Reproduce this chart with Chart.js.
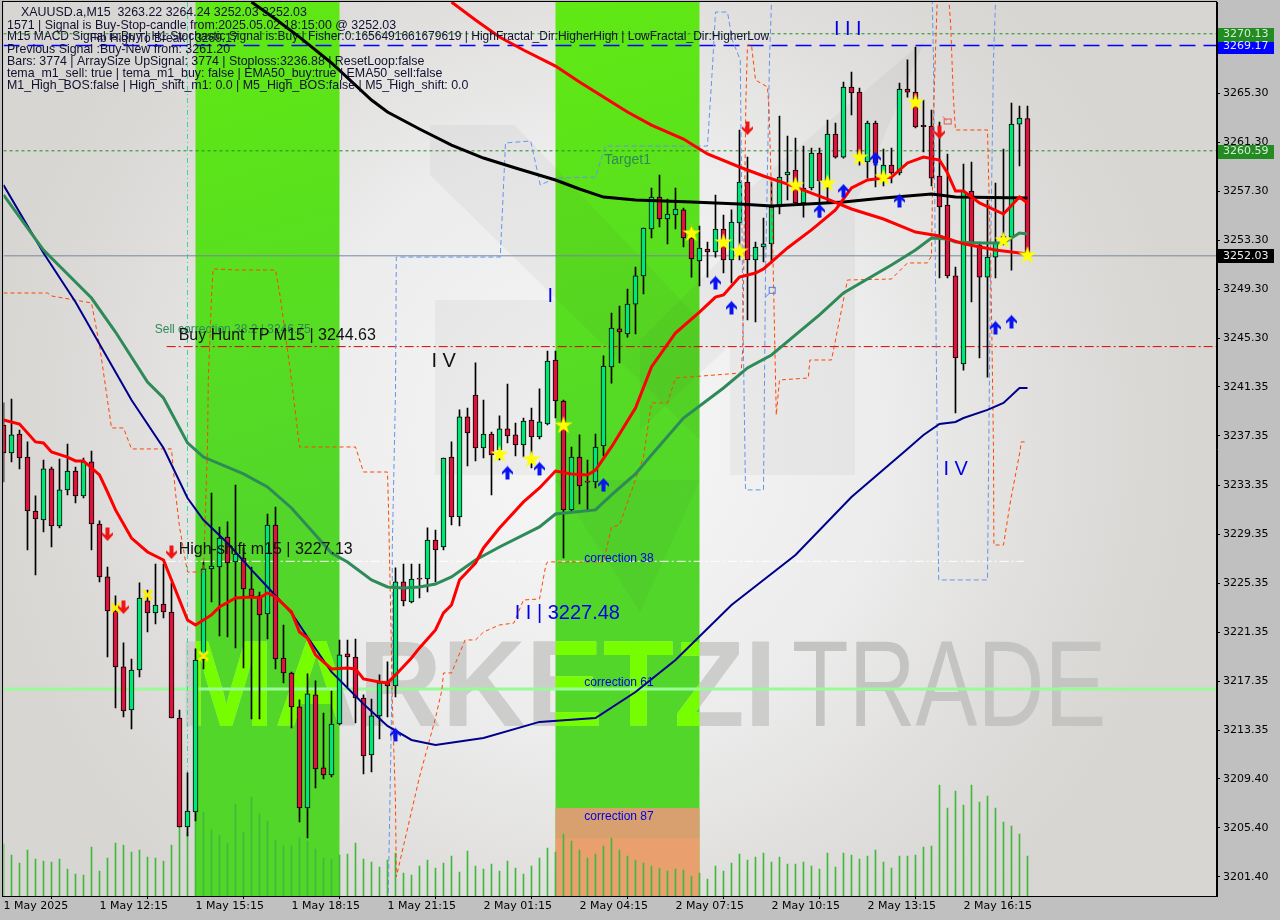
<!DOCTYPE html>
<html>
<head>
<meta charset="utf-8">
<title>XAUUSD.a,M15</title>
<script src="https://cdn.jsdelivr.net/npm/chart.js@4"></script>
<style>
html, body { margin: 0; padding: 0; background: #c0c0c0; }
canvas { display: block; }
</style>
</head>
<body>
<canvas id="chart" width="1280" height="920"></canvas>
<script>
const opens = [3238.24,3235.96,3237.51,3235.63,3231.23,3230.50,3234.66,3230.01,3232.95,3234.49,3232.46,3235.23,3230.17,3225.86,3223.08,3218.52,3215.01,3218.27,3223.90,3222.92,3223.65,3223.00,3214.36,3205.48,3206.70,3219.09,3226.51,3226.67,3229.11,3227.08,3227.40,3224.88,3224.31,3222.84,3230.09,3219.25,3218.03,3215.26,3207.03,3216.24,3210.29,3209.72,3213.87,3219.58,3219.33,3215.99,3211.35,3214.53,3217.30,3216.97,3225.45,3223.82,3225.72,3225.69,3228.87,3228.30,3235.63,3230.74,3238.90,3240.69,3236.37,3237.51,3236.21,3237.92,3237.43,3236.61,3238.65,3237.26,3238.32,3243.54,3240.20,3231.32,3235.63,3233.63,3233.60,3236.53,3242.97,3246.07,3245.66,3248.10,3250.39,3254.22,3256.82,3255.03,3255.36,3255.77,3253.48,3251.61,3252.59,3252.34,3254.22,3251.69,3254.71,3258.05,3251.69,3252.75,3253.00,3256.01,3258.62,3259.02,3256.34,3257.56,3260.41,3257.56,3261.96,3260.08,3265.79,3265.38,3259.68,3262.86,3258.37,3259.43,3258.78,3265.63,3265.38,3262.61,3262.61,3258.54,3256.17,3250.39,3243.21,3257.31,3252.91,3250.30,3251.93,3253.16,3253.56,3262.77,3263.22];
const highs = [3240.04,3240.36,3237.83,3236.86,3232.46,3235.39,3234.82,3235.47,3236.69,3234.82,3235.55,3236.12,3230.42,3226.67,3224.31,3220.48,3219.17,3225.37,3224.79,3226.91,3226.91,3225.37,3215.01,3209.88,3219.99,3227.08,3232.70,3229.93,3230.34,3233.35,3228.22,3226.67,3224.63,3230.99,3231.56,3221.94,3218.11,3215.83,3217.95,3217.38,3214.77,3216.56,3220.72,3220.72,3220.80,3216.24,3215.91,3217.87,3218.93,3226.59,3226.91,3226.91,3226.91,3229.85,3229.68,3235.55,3236.86,3239.47,3239.63,3243.30,3240.28,3237.67,3238.98,3241.58,3238.40,3238.81,3239.63,3241.18,3244.27,3244.27,3240.28,3236.45,3237.43,3235.39,3237.51,3243.87,3247.37,3247.94,3249.33,3251.12,3254.30,3257.56,3258.62,3256.66,3257.56,3255.93,3254.46,3254.46,3253.16,3256.99,3255.36,3255.77,3262.29,3260.08,3253.16,3255.11,3258.05,3263.43,3261.80,3261.63,3260.98,3260.82,3260.82,3263.10,3262.85,3266.20,3267.01,3265.71,3263.02,3263.02,3260.74,3260.82,3266.12,3268.00,3269.05,3264.73,3263.92,3262.94,3260.33,3251.12,3259.51,3259.68,3253.16,3256.58,3257.97,3260.74,3264.49,3264.24,3264.24];
const lows = [3233.60,3235.23,3234.66,3228.05,3226.02,3229.52,3228.30,3229.85,3232.54,3231.88,3232.30,3228.05,3225.45,3219.33,3215.18,3214.44,3213.47,3217.71,3221.37,3222.02,3222.51,3214.36,3205.48,3204.75,3205.97,3218.36,3223.82,3221.05,3220.96,3220.07,3218.44,3214.28,3214.28,3220.80,3218.36,3217.22,3213.55,3205.89,3204.58,3208.66,3209.39,3209.55,3213.79,3216.89,3213.95,3209.80,3209.96,3212.65,3214.44,3216.07,3223.49,3223.74,3224.14,3224.63,3225.45,3228.05,3230.09,3230.01,3234.90,3235.31,3235.55,3232.54,3235.39,3236.78,3235.72,3235.63,3234.74,3237.10,3238.24,3238.81,3227.40,3231.15,3231.80,3231.32,3233.11,3235.72,3241.66,3243.30,3245.41,3245.66,3248.92,3253.48,3254.38,3253.00,3254.22,3252.75,3250.30,3249.57,3250.30,3251.93,3250.63,3249.82,3251.69,3246.80,3246.64,3251.53,3251.45,3255.44,3256.58,3256.17,3255.19,3257.40,3255.19,3256.42,3260.00,3260.00,3263.51,3259.43,3258.37,3257.64,3257.72,3257.97,3258.62,3264.97,3262.45,3260.49,3257.72,3250.22,3250.22,3239.22,3242.72,3248.27,3243.70,3242.15,3250.22,3252.91,3250.87,3259.35,3252.03];
const closes = [3235.96,3237.43,3235.55,3231.23,3230.58,3234.66,3230.01,3232.95,3234.49,3232.46,3235.23,3230.17,3225.86,3223.08,3218.52,3214.93,3218.27,3224.14,3222.92,3223.57,3223.00,3214.36,3205.48,3206.78,3219.09,3226.51,3226.75,3229.03,3226.99,3227.73,3224.88,3224.31,3222.76,3230.09,3219.17,3218.03,3215.26,3207.03,3216.32,3210.21,3209.72,3213.87,3219.50,3219.33,3215.99,3211.27,3214.53,3217.22,3216.97,3225.45,3223.90,3225.69,3225.66,3228.87,3228.05,3235.55,3230.74,3238.90,3237.59,3236.37,3237.51,3235.80,3237.92,3237.35,3236.61,3238.57,3237.26,3238.49,3243.46,3240.20,3231.32,3235.63,3233.27,3233.57,3236.45,3243.05,3246.15,3245.82,3248.10,3250.39,3254.30,3256.82,3255.03,3255.44,3255.85,3253.48,3251.77,3252.67,3252.34,3254.22,3251.69,3254.79,3258.05,3251.69,3252.75,3253.00,3256.01,3258.45,3258.86,3256.34,3257.56,3260.41,3258.13,3261.96,3260.08,3265.79,3265.30,3259.84,3262.86,3259.60,3259.43,3258.78,3265.63,3265.38,3262.53,3262.55,3258.37,3256.01,3250.39,3243.70,3257.31,3253.16,3250.30,3251.93,3253.16,3253.65,3262.77,3263.26,3252.03];
const volumes = [520,410,330,460,370,350,340,370,270,220,210,490,250,380,530,510,440,460,390,380,350,510,690,640,840,840,660,610,530,920,640,990,820,750,560,500,500,580,550,470,380,370,410,420,530,370,340,290,360,430,230,210,300,360,280,330,400,240,450,300,270,320,250,350,280,220,300,380,480,440,620,550,460,380,420,500,580,460,400,360,330,300,280,250,270,260,200,230,170,300,250,330,420,360,390,430,340,390,320,320,340,300,270,430,290,430,410,370,400,460,340,280,400,400,410,490,500,1110,880,1050,910,1110,940,1000,880,740,700,620,400];

const redBars = [0,2,4,5,6,8,9,10,12,13,14,16,18,20,21,23,24,26,27,29,31,32,33,34,36,37,38,39,41,43,44,45,47,48,49,51,52,54,55,56,57,59,60,62,65,67,69,71,73,74,76,79,81,84,87,89,90,92,94,95,98,101,104,106,108,111,113,115,117,118,119,120,122,125,127,128];
const redLine = [3238.65,3238.32,3236.86,3236.78,3236.04,3235.63,3235.31,3235.31,3234.17,3232.78,3231.32,3229.03,3227.89,3227.24,3225.61,3222.35,3221.94,3222.76,3223.41,3224.14,3224.22,3224.14,3224.55,3224.22,3223.00,3221.37,3220.88,3219.50,3218.36,3218.44,3218.36,3217.54,3217.30,3217.22,3217.87,3219.25,3220.07,3221.54,3222.92,3223.57,3225.61,3226.99,3228.22,3229.85,3231.97,3233.11,3234.49,3234.25,3234.17,3234.57,3236.45,3239.63,3242.97,3245.74,3247.45,3248.67,3248.84,3250.30,3250.63,3250.96,3252.67,3254.14,3255.77,3257.56,3258.21,3258.45,3259.60,3260.08,3259.84,3258.78,3257.31,3257.31,3256.34,3255.44,3256.82,3256.34];
const slowRedBars = [56,59,62,65,69,72,75,78,81,85,88,92,95,98,103,106,110,114,117,120,124,128];
const slowRedLine = [3272.72,3271.25,3269.86,3268.81,3267.50,3266.20,3264.97,3263.75,3262.69,3261.55,3260.33,3259.27,3258.54,3257.88,3256.66,3255.85,3255.03,3253.97,3253.65,3253.01,3252.50,3252.18];
const blackBars = [31,34,37,41,46,48,52,56,60,64,69,72,75,79,86,92,96,105,110,116,119,128];
const blackLine = [3272.72,3271.33,3269.86,3267.75,3264.73,3263.75,3262.37,3261.06,3260.00,3259.19,3258.21,3257.48,3256.82,3256.58,3256.42,3256.25,3256.09,3256.42,3256.74,3257.07,3256.82,3256.74];
const greenBars = [0,5,11,14,18,20,23,25,30,33,36,39,41,43,46,48,50,52,54,56,59,62,67,69,74,76,79,81,85,90,93,96,99,102,105,111,114,116,118,119,122,125,127,128];
const greenLine = [3256.99,3252.50,3248.59,3245.82,3241.75,3240.44,3236.78,3235.63,3234.25,3233.19,3231.48,3229.28,3227.81,3227.08,3225.61,3225.04,3224.96,3225.04,3225.28,3225.86,3227.24,3228.30,3229.93,3230.99,3231.32,3232.54,3234.25,3235.80,3238.81,3241.26,3242.89,3243.95,3245.58,3247.21,3249.00,3251.28,3252.50,3253.48,3253.40,3253.16,3253.08,3253.08,3253.89,3253.81];
const navyBars = [0,5,9,14,16,20,23,25,28,31,33,36,38,41,45,48,51,54,60,67,74,79,84,91,99,106,113,115,117,119,120,123,125,127,128];
const navyLine = [3257.80,3252.26,3248.27,3242.56,3240.28,3236.37,3232.29,3230.50,3228.62,3226.43,3225.04,3222.92,3220.96,3218.11,3215.50,3213.71,3212.57,3212.16,3212.73,3214.04,3214.36,3216.48,3219.09,3223.57,3227.65,3232.37,3236.29,3237.43,3238.32,3238.49,3238.81,3239.47,3240.04,3241.26,3241.26];
const orangeBars = [0,5.5,6,11,12,13.5,15,16,21,21.5,22,23,25,25.5,25.6,26,26.2,29.6,34,34.6,36,36.6,37,44,45,48,48.1,48.4,48.6,49,49.1,52,54,54.8,55,56,57.7,59,60,62,63.8,65,67,67.8,68,75,76,77,80,81,83,84,92.2,92.4,92.8,93,93.5,94,95.5,95.7,96,96.3,96.6,97,100.6,100.8,103.5,104.5,105.5,111,113,115.5,116,116.3,116.8,118,118.4,118.75,119,123,123.4,123.6,123.75,123.8,125,125.9,127.1,127.2,127.75];
const orangeLine = [3249.00,3249.00,3248.76,3248.19,3244.76,3238.00,3238.00,3236.29,3236.29,3232.70,3229.93,3226.26,3226.26,3236.45,3241.91,3248.67,3250.96,3250.87,3250.87,3248.67,3241.91,3238.65,3236.45,3236.45,3234.41,3234.41,3232.13,3222.92,3215.83,3207.44,3201.40,3209.55,3214.36,3216.64,3218.03,3218.03,3220.72,3220.72,3221.37,3221.94,3222.10,3223.98,3224.06,3226.83,3227.08,3227.08,3229.93,3230.09,3235.63,3240.04,3240.04,3242.07,3242.48,3244.36,3264.73,3269.21,3269.21,3266.36,3265.79,3263.92,3257.15,3248.43,3239.06,3241.91,3242.07,3243.54,3243.54,3246.80,3250.06,3250.14,3251.45,3251.45,3252.02,3264.73,3274.51,3274.51,3270.84,3264.73,3262.29,3262.29,3251.69,3243.30,3236.21,3228.46,3228.46,3232.13,3236.21,3236.86,3236.86];
const blueBars = [48.1,48.4,48.6,48.6,49,49.1,62.1,62.75,65.9,67.1,69,74,75.25,88,88.6,89,90.5,91.1,92.1,92.4,92.75,95,95.25,95.75,96,97,114,116.1,116.25,116.5,116.9,123,123.4,123.75,124];
const blueLine = [3200.10,3210.94,3218.52,3228.30,3240.85,3251.93,3251.93,3261.23,3261.39,3257.80,3258.37,3258.45,3260.98,3260.98,3267.18,3271.90,3271.90,3269.62,3267.99,3248.43,3232.95,3232.95,3250.30,3267.99,3272.72,3274.51,3274.51,3272.72,3267.99,3250.30,3225.61,3225.61,3252.50,3267.99,3272.72];

const starBars = [62,66,70,86,90,92,99,103,107,110,114,125,128];
const starPrices = [3235.88,3235.47,3238.24,3253.89,3253.16,3252.42,3257.80,3257.97,3260.08,3258.45,3264.57,3253.32,3252.10];
const upBars = [49,63,67,75,89,91,102,105,109,112,124,126];
const upPrices = [3212.98,3234.33,3234.66,3233.35,3249.82,3247.78,3255.68,3257.31,3259.92,3256.50,3246.15,3246.64];
const downBars = [13,15,21,93,117];
const downPrices = [3229.36,3223.41,3227.89,3262.45,3262.12];
const crossBars = [14,18,25];
const crossPrices = [3223.33,3224.39,3219.42];

const yTicks = [3265.30,3261.30,3257.30,3253.30,3249.30,3245.30,3241.35,3237.35,3233.35,3229.35,3225.35,3221.35,3217.35,3213.35,3209.40,3205.40,3201.40];
const xTickBars = [0,12,24,36,48,60,72,84,96,108,120];
const xTickLabels = ['1 May 2025','1 May 12:15','1 May 15:15','1 May 18:15','1 May 21:15','2 May 01:15','2 May 04:15','2 May 07:15','2 May 10:15','2 May 13:15','2 May 16:15'];

const zoneStart = [24,69];
const zoneEnd = [42,87];
const lastBar = 151.69;
const priceMin = 3199.85;
const priceMax = 3272.72;

const headerLines = [
  'M15 MACD Signal is:Buy | H1 Stochastic Signal is:Buy | Fisher:0.1656491661679619 | HighFractal_Dir:HigherHigh | LowFractal_Dir:HigherLow',
  '1571 | Signal is Buy-Stop-candle from:2025.05.02 18:15:00 @ 3252.03',
  'Previous Signal :Buy-New from: 3261.20',
  'Bars: 3774 | ArraySize UpSignal: 3774 | Stoploss:3236.88 | ResetLoop:false',
  'tema_m1_sell: true | tema_m1_buy: false | EMA50_buy:true | EMA50_sell:false',
  'M1_High_BOS:false | High_shift_m1: 0.0 | M5_High_BOS:false | M5_High_shift: 0.0'
];
const headerY = [37,26,50,62,74,86];

function pairs(xs, ys) {
  return xs.map((x, i) => ({ x: x, y: ys[i] }));
}

// little images for the signal marks
function markCanvas(w, h, draw) {
  const c = document.createElement('canvas');
  c.width = w;
  c.height = h;
  draw(c.getContext('2d'), w, h);
  return c;
}
const starMark = markCanvas(20, 20, (g) => {
  g.fillStyle = '#ffff00';
  g.beginPath();
  for (let i = 0; i < 10; i++) {
    const r = i % 2 ? 3.6 : 9.5;
    const a = -Math.PI / 2 + i * Math.PI / 5;
    g.lineTo(10 + r * Math.cos(a), 10.5 + r * Math.sin(a));
  }
  g.closePath();
  g.fill();
});
function arrowShape(g, color) {
  g.fillStyle = color;
  g.beginPath();
  g.moveTo(6.5, 0.5);
  g.lineTo(12, 6.5);
  g.lineTo(12, 9);
  g.lineTo(8.5, 6.5);
  g.lineTo(8.5, 14);
  g.lineTo(4.5, 14);
  g.lineTo(4.5, 6.5);
  g.lineTo(1, 9);
  g.lineTo(1, 6.5);
  g.closePath();
  g.fill();
}
const upMark = markCanvas(13, 15, (g) => arrowShape(g, '#0a14f0'));
const downMark = markCanvas(13, 15, (g) => {
  g.translate(0, 15);
  g.scale(1, -1);
  arrowShape(g, '#f01414');
});
const crossMark = markCanvas(13, 13, (g) => {
  g.strokeStyle = '#ffee00';
  g.lineWidth = 3;
  g.beginPath();
  g.moveTo(2, 2);
  g.lineTo(11, 11);
  g.moveTo(11, 2);
  g.lineTo(2, 11);
  g.stroke();
});
const hollowUp = markCanvas(12, 12, (g) => {
  g.strokeStyle = '#4a7de8';
  g.lineWidth = 1;
  g.strokeRect(4.5, 1.5, 6, 6);
  g.beginPath();
  g.moveTo(1, 11);
  g.lineTo(5, 7);
  g.stroke();
});
const hollowDown = markCanvas(14, 14, (g) => {
  g.strokeStyle = '#e05a4a';
  g.lineWidth = 1;
  g.strokeRect(4.5, 3.5, 7, 5);
  g.beginPath();
  g.moveTo(3, 1);
  g.lineTo(7, 5);
  g.stroke();
});

function flatLine(price, from, to, color, width, dash, order) {
  return {
    type: 'line',
    data: [{ x: from, y: price }, { x: to, y: price }],
    borderColor: color,
    borderWidth: width,
    borderDash: dash,
    pointRadius: 0,
    order: order
  };
}
function traceLine(xs, ys, color, width, dash, order) {
  return {
    type: 'line',
    data: pairs(xs, ys),
    borderColor: color,
    borderWidth: width,
    borderDash: dash || [],
    pointRadius: 0,
    tension: 0,
    order: order
  };
}
function marks(xs, ys, image) {
  return {
    type: 'scatter',
    data: pairs(xs, ys),
    pointStyle: image,
    pointRadius: 6,
    order: 1
  };
}
// no room kept for labels that hang over the ends of an axis
function noLabelPadding(axis) {
  axis.paddingLeft = 0;
  axis.paddingRight = 0;
  axis.paddingTop = 0;
  axis.paddingBottom = 0;
}

// background, watermark and the coloured zones go under the candles
const backdrop = {
  id: 'backdrop',
  beforeDatasetsDraw(chart) {
    const g = chart.ctx;
    const a = chart.chartArea;
    const x = chart.scales.x;
    const y = chart.scales.y;
    g.save();
    const bg = g.createRadialGradient(590, 440, 0, 590, 440, 600);
    bg.addColorStop(0, '#f7f7f7');
    bg.addColorStop(0.5, '#ececec');
    bg.addColorStop(0.8, '#dedddb');
    bg.addColorStop(1, '#d8d6d3');
    g.fillStyle = bg;
    g.fillRect(a.left, a.top, a.right - a.left, a.bottom - a.top);

    // zones
    zoneStart.forEach((b, i) => {
      const l = x.getPixelForValue(b);
      const r = x.getPixelForValue(zoneEnd[i]);
      const zone = g.createLinearGradient(l, a.top, r, 500);
      zone.addColorStop(0, '#60e913');
      zone.addColorStop(1, '#52d62a');
      g.fillStyle = zone;
      g.fillRect(l, a.top, r - l, a.bottom - a.top);
    });
    const zl = x.getPixelForValue(zoneStart[1]);
    const zr = x.getPixelForValue(zoneEnd[1]);
    g.fillStyle = '#d8a06e';
    g.fillRect(zl, y.getPixelForValue(3207.03), zr - zl, y.getPixelForValue(3204.58) - y.getPixelForValue(3207.03));
    g.fillStyle = '#e9a06e';
    g.fillRect(zl, y.getPixelForValue(3204.58), zr - zl, a.bottom - y.getPixelForValue(3204.58));

    // logo
    g.fillStyle = 'rgba(40,50,40,0.045)';
    [
      [[435, 300], [555, 300], [555, 475], [435, 475]],
      [[430, 125], [515, 125], [700, 320], [700, 440], [430, 175]],
      [[730, 205], [855, 205], [855, 475], [730, 475]],
      [[730, 205], [925, 40], [855, 205]],
      [[555, 480], [700, 480], [640, 612]],
      [[640, 340], [730, 250], [730, 345], [640, 430]]
    ].forEach((pts) => {
      g.beginPath();
      pts.forEach((p) => g.lineTo(p[0], p[1]));
      g.closePath();
      g.fill();
    });

    // MARKETZI / TRADE
    g.textBaseline = 'alphabetic';
    g.textAlign = 'left';
    const wordmark = (color) => {
      g.save();
      g.translate(178, 726);
      g.scale(0.95, 1);
      g.font = 'bold 122px "Liberation Sans"';
      g.fillStyle = color;
      g.fillText('MARKETZI', 0, 0);
      g.restore();
    };
    wordmark('#cdcdcb');
    g.save();
    g.beginPath();
    zoneStart.forEach((b, i) => {
      const l = x.getPixelForValue(b);
      g.rect(l, a.top, x.getPixelForValue(zoneEnd[i]) - l, a.bottom - a.top);
    });
    g.clip();
    wordmark('#76fe00');
    g.restore();
    g.save();
    g.translate(792, 726);
    g.scale(0.76, 1);
    g.font = '122px "Liberation Sans"';
    g.fillStyle = '#c4c4c2';
    g.fillText('TRADE', 0, 0);
    g.restore();
    g.restore();
  },
  afterDatasetsDraw(chart) {
    const g = chart.ctx;
    const x = chart.scales.x;
    const y = chart.scales.y;
    g.save();
    g.strokeStyle = '#000';
    g.lineWidth = 1;
    g.strokeRect(2.5, 1.5, 1214, 895);

    // hollow arrows
    g.drawImage(hollowUp, x.getPixelForValue(95.9) - 6, y.getPixelForValue(3249.1) - 6);
    g.drawImage(hollowDown, x.getPixelForValue(117.9) - 7, y.getPixelForValue(3262.9) - 7);

    // text on the chart
    g.textBaseline = 'middle';
    g.textAlign = 'left';
    const put = (text, bar, price, font, color) => {
      g.font = font;
      g.fillStyle = color;
      g.fillText(text, x.getPixelForValue(bar), y.getPixelForValue(price));
    };
    const small = '12px "Liberation Sans"';
    const mid = '16px "Liberation Sans"';
    put('Sell correction 38.2 | 3246.75', 18.9, 3246.05, small, '#2e8b57');
    put('Buy Hunt TP M15 | 3244.63', 21.9, 3245.55, mid, '#111');
    put('High-shift m15 | 3227.13', 21.9, 3228.1, mid, '#111');
    put('Target1', 75.1, 3259.8, '14px "Liberation Sans"', '#2e8b57');
    put('I V', 53.5, 3243.45, '20px "Liberation Sans"', '#111');
    put('I', 68, 3248.75, '20px "Liberation Sans"', '#0000e6');
    put('I I | 3227.48', 63.9, 3222.85, '20px "Liberation Sans"', '#0000e6');
    put('I I I', 103.8, 3270.5, '20px "Liberation Sans"', '#0000e6');
    put('I V', 117.5, 3234.6, '20px "Liberation Sans"', '#0000e6');
    put('correction 38', 72.6, 3227.35, small, '#0000e6');
    put('correction 61', 72.6, 3217.25, small, '#0000e6');
    put('correction 87', 72.6, 3206.3, small, '#0000e6');

    // header block
    g.font = '12.4px "Liberation Sans"';
    g.fillStyle = '#101030';
    g.fillText('XAUUSD.a,M15  3263.22 3264.24 3252.03 3252.03', 21, 12.5);
    headerLines.forEach((t, i) => {
      g.font = i === 0 ? small : '12.4px "Liberation Sans"';
      g.fillText(t, 7, headerY[i]);
    });
    g.font = small;
    g.fillStyle = '#151540';
    g.fillText('Fib High To Break | 3269.17', 90, 39);

    // price boxes on the axis
    const box = (text, price, top, h, fill, color) => {
      g.fillStyle = fill;
      g.fillRect(1218, top, 56, h);
      g.fillStyle = color;
      g.font = '11px "DejaVu Sans"';
      g.fillText(text, 1223, y.getPixelForValue(price) + 0.5);
    };
    box('3270.13', 3270.13, 28, 14, '#228b22', '#d8ecd8');
    box('3269.17', 3269.17, 42, 12, '#0000ff', '#e6e6ff');
    box('3260.59', 3260.59, 145, 14, '#228b22', '#d8ecd8');
    box('3252.03', 3252.03, 249, 14, '#000000', '#f0f0f0');
    g.restore();
  }
};

new Chart(document.getElementById('chart'), {
  type: 'bar',
  data: {
    datasets: [
      { yAxisID: 'vol', data: pairs(opens.map((v, i) => i), volumes), backgroundColor: '#3fba3c', barThickness: 1, grouped: false, order: 20 },
      flatLine(3216.73, 0, lastBar, '#98fb98', 3, [], 19),
      flatLine(3252.03, 0, lastBar, '#778899', 1, [], 18),
      flatLine(3270.13, 0, lastBar, '#228b22', 1, [3, 3], 18),
      flatLine(3260.59, 0, lastBar, '#228b22', 1, [3, 3], 18),
      flatLine(3269.17, 0, lastBar, '#0000ff', 1.5, [16, 8], 18),
      flatLine(3244.63, 20.4, lastBar, '#e00000', 1, [9, 3, 2, 3], 18),
      flatLine(3227.13, 20.4, 127.6, '#ffffff', 1, [9, 3, 2, 3], 18),
      { type: 'line', data: [{ x: 23, y: priceMax }, { x: 23, y: 3209.5 }], borderColor: '#30dc9c', borderWidth: 1, borderDash: [5, 3, 1, 3], pointRadius: 0, order: 18 },
      { data: pairs(opens.map((v, i) => i), lows.map((v, i) => [v, highs[i]])), backgroundColor: '#000', barThickness: 1, grouped: false, order: 15 },
      {
        data: pairs(opens.map((v, i) => i), opens.map((v, i) => {
          // a doji still needs a visible body
          return Math.abs(closes[i] - v) < 0.1 ? [v - 0.05, v + 0.05] : [v, closes[i]];
        })),
        backgroundColor: opens.map((v, i) => closes[i] >= v ? '#00e676' : '#dc143c'),
        borderColor: '#000',
        borderWidth: 1,
        borderSkipped: false,
        barThickness: 5,
        grouped: false,
        order: 14
      },
      traceLine(orangeBars, orangeLine, '#ff4500', 1, [4, 3], 12),
      traceLine(blueBars, blueLine, '#6495ed', 1, [5, 3], 12),
      traceLine(navyBars, navyLine, '#00008b', 2, null, 9),
      traceLine(greenBars, greenLine, '#2e8b57', 3, null, 8),
      traceLine(blackBars, blackLine, '#000000', 3, null, 7),
      traceLine(slowRedBars, slowRedLine, '#ff0000', 3, null, 6),
      traceLine(redBars, redLine, '#ff0000', 3, null, 5),
      marks(upBars, upPrices, upMark),
      marks(downBars, downPrices, downMark),
      marks(crossBars, crossPrices, crossMark),
      marks(starBars, starPrices, starMark)
    ]
  },
  options: {
    responsive: false,
    animation: false,
    devicePixelRatio: 1,
    layout: { autoPadding: false, padding: { left: 3.5, top: 2, right: 0, bottom: 0 } },
    plugins: { legend: { display: false }, tooltip: { enabled: false } },
    scales: {
      x: {
        type: 'linear',
        position: 'bottom',
        offset: false,
        min: 0,
        max: lastBar,
        afterFit(axis) { axis.height = 24; noLabelPadding(axis); },
        afterBuildTicks(axis) { axis.ticks = xTickBars.map((v) => ({ value: v })); },
        border: { color: '#000' },
        grid: { drawOnChartArea: false, drawTicks: true, tickLength: 3, color: '#000' },
        ticks: {
          autoSkip: false,
          maxRotation: 0,
          align: 'start',
          padding: 1,
          color: '#000',
          font: { family: 'DejaVu Sans', size: 11 },
          callback(v) { return xTickLabels[xTickBars.indexOf(v)]; }
        }
      },
      y: {
        type: 'linear',
        position: 'right',
        min: priceMin,
        max: priceMax,
        afterFit(axis) { axis.width = 63; noLabelPadding(axis); },
        afterBuildTicks(axis) { axis.ticks = yTicks.map((v) => ({ value: v })); },
        border: { color: '#000' },
        grid: { drawOnChartArea: false, drawTicks: true, tickLength: 3, color: '#000' },
        ticks: {
          autoSkip: false,
          crossAlign: 'near',
          padding: 3,
          color: '#000',
          font: { family: 'DejaVu Sans', size: 11 },
          callback(v) { return v.toFixed(2); }
        }
      },
      vol: { type: 'linear', display: false, min: 0, max: 8940 }
    }
  },
  plugins: [backdrop]
});
</script>
</body>
</html>
